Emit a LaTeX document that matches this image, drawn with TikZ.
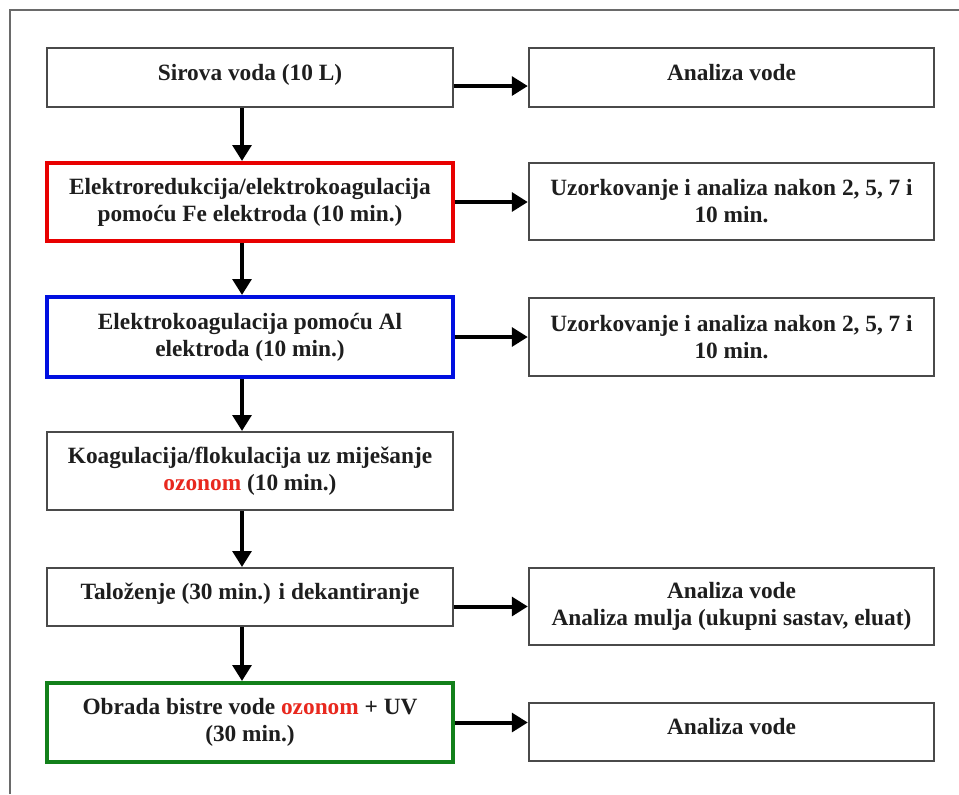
\documentclass[tikz,border=0pt]{standalone}
\usepackage{fontspec}
\setmainfont{Liberation Serif}
\usetikzlibrary{positioning,arrows.meta}

\definecolor{txt}{HTML}{1E1E1E}
\definecolor{boxline}{HTML}{4A4A4A}
\definecolor{frameline}{HTML}{6A6A6A}
\definecolor{ozred}{HTML}{E8281E}
\definecolor{fered}{HTML}{E80000}
\definecolor{alblue}{HTML}{0010E0}
\definecolor{uvgreen}{HTML}{12801A}

\begin{document}
\begin{tikzpicture}[x=0.75pt,y=-0.75pt,
    every node/.style={align=center, text=txt,
        font=\fontsize{17.5}{20.25}\selectfont\bfseries},
    box/.style={draw=boxline, line width=1.5pt, minimum width=304pt,
        minimum height=#1, inner sep=2pt},
    onerow/.style={text depth=8pt},
    arr/.style={-{Triangle[length=12pt,width=14pt]}, line width=3pt},
]
\useasboundingbox (0,0) rectangle (959,794);
\draw[frameline, line width=1.8pt] (10,794) -- (10,10) -- (959,10);

% left column
\node[box=44.25pt, onerow] (s1) at (250,77.5) {Sirova voda (10 L)};
\node[box=58.5pt, draw=fered, line width=3pt] (s2) at (250,202)
    {Elektroredukcija/elektrokoagulacija\\pomoću Fe elektroda (10 min.)};
\node[box=60pt, draw=alblue, line width=3pt] (s3) at (250,337)
    {Elektrokoagulacija pomoću Al\\elektroda (10 min.)};
\node[box=58.5pt] (s4) at (250,471)
    {Koagulacija/flokulacija uz miješanje\\\textcolor{ozred}{ozonom} (10 min.)};
\node[box=43.5pt, onerow] (s5) at (250,597) {Taloženje (30 min.) i dekantiranje};
\node[box=59.25pt, draw=uvgreen, line width=3pt] (s6) at (250,722.5)
    {Obrada bistre vode \textcolor{ozred}{ozonom} + UV\\(30 min.)};

% right column
\node[box=44.25pt, onerow] (a1) at (731.5,77.5) {Analiza vode};
\node[box=57.75pt] (a2) at (731.5,201.5) {Uzorkovanje i analiza nakon 2, 5, 7 i\\10 min.};
\node[box=58.5pt] (a3) at (731.5,337) {Uzorkovanje i analiza nakon 2, 5, 7 i\\10 min.};
\node[box=57.75pt] (a5) at (731.5,606.5)
    {Analiza vode\\Analiza mulja (ukupni sastav, eluat)};
\node[box=43.5pt, onerow] (a6) at (731.5,732) {Analiza vode};

% down the process
\foreach \i/\j in {s1/s2,s2/s3,s3/s4,s4/s5,s5/s6}
    \draw[arr] ([xshift=-6pt]\i.south) -- ([xshift=-6pt]\j.north);

% to the analyses
\draw[arr] ([yshift=-6.4pt]s1.east) -- ([yshift=-6.4pt]s1.east -| a1.west);
\draw[arr] (s2) -- (s2 -| a2.west);
\draw[arr] (s3) -- (s3 -| a3.west);
\draw[arr] (s5.east |- a5) -- (a5);
\draw[arr] (s6) -- (s6 -| a6.west);
\end{tikzpicture}
\end{document}
